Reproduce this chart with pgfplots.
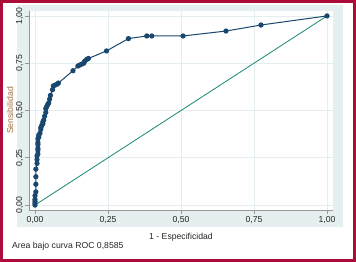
\documentclass[border=0pt]{standalone}
\usepackage{fontspec}
\setmainfont{Liberation Sans}
\usepackage{pgfplots}
\pgfplotsset{compat=1.18}
\definecolor{frame}{RGB}{172,12,58}
\definecolor{gregion}{RGB}{229,239,240}
\definecolor{gridc}{RGB}{228,238,240}
\definecolor{curve}{RGB}{26,71,111}
\definecolor{refl}{RGB}{25,135,118}
\definecolor{axc}{RGB}{150,150,150}
\definecolor{ylab}{RGB}{160,110,60}
\begin{document}
\begin{tikzpicture}[x=1bp,y=1bp]
\path[use as bounding box] (0,0) rectangle (356,262);
\fill[white] (0,0) rectangle (356,262);
\fill[gregion] (17,35) rectangle (343,257);
\begin{axis}[
  at={(29bp,52bp)}, anchor=south west,
  scale only axis, width=304bp, height=199bp,
  xmin=-0.0205, xmax=1.0205, ymin=-0.026, ymax=1.026,
  axis background/.style={fill=white},
  axis x line*=bottom, axis y line*=left,
  axis line style={axc, line width=0.6bp, -},
  xtick={0,0.25,0.5,0.75,1}, ytick={0,0.25,0.5,0.75,1},
  xticklabels={{0,00},{0,25},{0,50},{0,75},{1,00}},
  yticklabels={{0,00},{0,25},{0,50},{0,75},{1,00}},
  tick align=outside, major tick length=4bp,
  tick style={axc, line width=0.6bp},
  grid=major, major grid style={gridc, line width=0.8bp},
  ticklabel style={font=\fontsize{8.7}{10}\selectfont, text=black!85},
  yticklabel style={rotate=90, anchor=south, inner sep=1.5bp},
  xticklabel style={inner sep=2bp},
  xlabel={1 - Especificidad},
  ylabel={Sensibilidad},
  label style={font=\fontsize{8.7}{10}\selectfont},
  xlabel style={at={(axis description cs:0.5,-0.136)}, anchor=center, text=black!85},
  ylabel style={at={(axis description cs:-0.0625,0.5)}, anchor=center, text=ylab},
  clip=false,
]
\addplot[refl, line width=0.8bp] coordinates {(0,0) (1,1)};
\addplot[curve, line width=1bp, mark=*, mark size=2.1bp, mark options={fill=curve, draw=curve}] coordinates {
(0,0) (0,0.01) (0,0.02) (0,0.03) (0,0.05) (0.003,0.07) (0.003,0.11) (0.003,0.15)
(0.003,0.19) (0.007,0.22) (0.007,0.24) (0.007,0.26) (0.01,0.27) (0.01,0.29) (0.01,0.30)
(0.01,0.32) (0.01,0.33) (0.01,0.35) (0.013,0.36) (0.013,0.37) (0.017,0.38) (0.02,0.40)
(0.02,0.41) (0.023,0.42) (0.027,0.43) (0.027,0.44) (0.03,0.45) (0.033,0.47) (0.037,0.49)
(0.037,0.51) (0.04,0.52) (0.043,0.53) (0.047,0.54) (0.05,0.56) (0.053,0.58) (0.06,0.61)
(0.063,0.63) (0.07,0.635) (0.077,0.64) (0.08,0.645) (0.13,0.71) (0.147,0.735) (0.153,0.74)
(0.16,0.745) (0.167,0.75) (0.17,0.76) (0.177,0.77) (0.183,0.775) (0.245,0.815) (0.32,0.88)
(0.383,0.894) (0.40,0.894) (0.507,0.894) (0.654,0.92) (0.774,0.952) (1,1)
};
\end{axis}
\node[anchor=west, font=\fontsize{8.7}{10}\selectfont, text=black!85, inner sep=0] at (12,16) {Area bajo curva ROC 0,8585};
\draw[frame, line width=2.6] (1.3,1.3) rectangle (354.7,260.7);
\end{tikzpicture}
\end{document}
